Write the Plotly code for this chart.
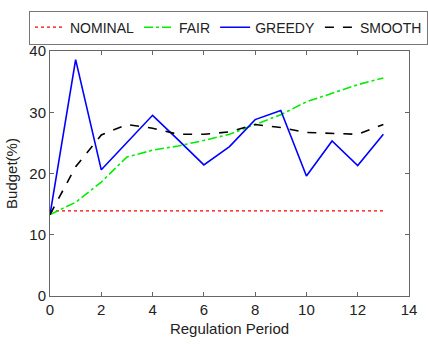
import plotly.graph_objects as go

periods = list(range(14))
nominal = [13.9] * 14
fair = [13.3, 15.3, 18.6, 22.7, 23.8, 24.5, 25.4, 26.4, 28.0, 29.6, 31.7, 33.1, 34.5, 35.6]
greedy = [13.3, 38.6, 20.6, 25.0, 29.5, 25.5, 21.4, 24.4, 28.8, 30.3, 19.6, 25.3, 21.3, 26.4]
smooth = [13.3, 21.1, 26.3, 28.0, 27.4, 26.4, 26.4, 26.8, 28.0, 27.5, 26.7, 26.6, 26.4, 28.0]

fig = go.Figure()
fig.add_trace(go.Scatter(x=periods, y=nominal, mode="lines", name="NOMINAL",
                         line=dict(color="#ff0000", width=1.2, dash="dot")))
fig.add_trace(go.Scatter(x=periods, y=fair, mode="lines", name="FAIR",
                         line=dict(color="#00ee00", width=1.6, dash="dashdot")))
fig.add_trace(go.Scatter(x=periods, y=greedy, mode="lines", name="GREEDY",
                         line=dict(color="#0000ff", width=1.6)))
fig.add_trace(go.Scatter(x=periods, y=smooth, mode="lines", name="SMOOTH",
                         line=dict(color="#000000", width=1.6, dash="dash")))

axis_common = dict(showgrid=False, zeroline=False, showline=True, mirror="allticks",
                   linecolor="#666666", linewidth=1, ticks="inside", ticklen=4,
                   tickcolor="#666666", tickfont=dict(size=15, color="#222222"))
fig.update_xaxes(range=[0, 14], dtick=2, title=dict(text="Regulation Period", font=dict(size=15, color="#222222"), standoff=6), **axis_common)
fig.update_yaxes(range=[0, 40], dtick=10, title=dict(text="Budget(%)", font=dict(size=15, color="#222222"), standoff=8), **axis_common)

fig.update_layout(
    width=428, height=346,
    margin=dict(l=48, r=11, t=45, b=50),
    paper_bgcolor="white", plot_bgcolor="white",
    font=dict(family="Liberation Sans, Arial, sans-serif", color="#222222"),
    showlegend=True,
    legend=dict(orientation="h", x=-0.035, xanchor="left", y=1.165, yanchor="top",
                bordercolor="#777777", borderwidth=1, font=dict(size=14),
                itemwidth=30, tracegroupgap=0),
)
fig.write_html("out.html")
